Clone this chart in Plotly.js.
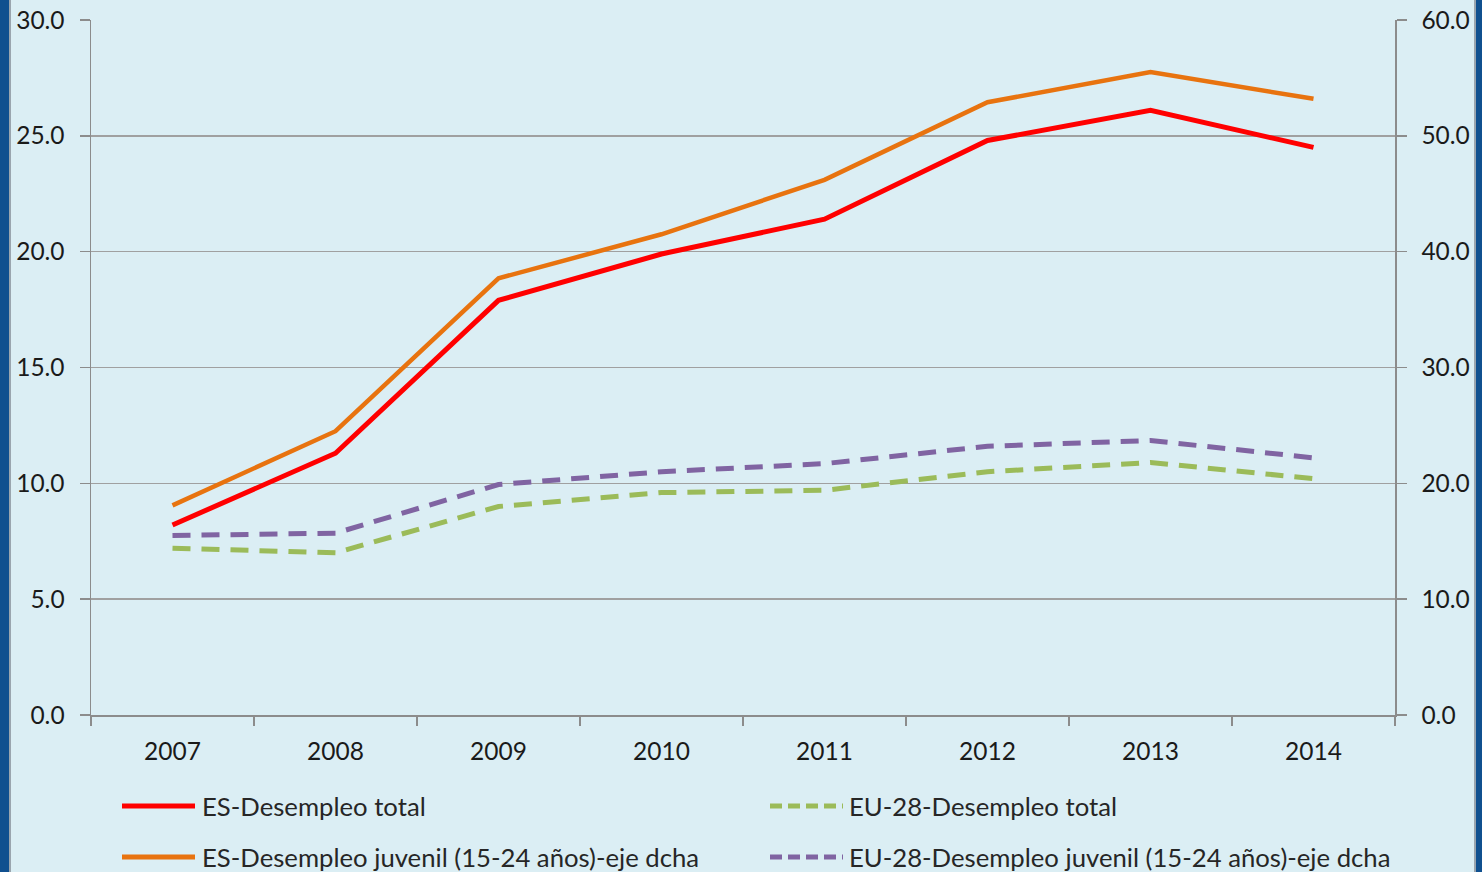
<!DOCTYPE html>
<html>
<head>
<meta charset="utf-8">
<script src="https://cdn.plot.ly/plotly-3.0.1.min.js"></script>
<style>
  html, body { margin:0; padding:0; background:#dbeef4; overflow:hidden; }
  #chart { position:absolute; left:0; top:0; width:1482px; height:872px; }
  .stripL { position:absolute; left:0; top:0; width:9px; height:872px; background:#10508f; border-right:2px solid #9aa5ae; }
  .stripR { position:absolute; right:0; top:0; width:6px; height:872px; background:#10508f; border-left:2px solid #9aa5ae; }
</style>
</head>
<body>
<div id="chart"></div>
<div class="stripL"></div>
<div class="stripR"></div>
<script>
const years = ["2007","2008","2009","2010","2011","2012","2013","2014"];
const esTotal = [8.2, 11.3, 17.9, 19.9, 21.4, 24.8, 26.1, 24.5];
const euTotal = [7.2, 7.0, 9.0, 9.6, 9.7, 10.5, 10.9, 10.2];
const esYouth = [18.1, 24.5, 37.7, 41.5, 46.2, 52.9, 55.5, 53.2];
const euYouth = [15.5, 15.7, 19.9, 21.0, 21.7, 23.2, 23.7, 22.2];
const names = ["ES-Desempleo total", "EU-28-Desempleo total",
               "ES-Desempleo juvenil (15-24 años)-eje dcha", "EU-28-Desempleo juvenil (15-24 años)-eje dcha"];

const FONT = "Lato, 'Open Sans', sans-serif";
const cRed = "#ff0000", cOrange = "#e8730f", cGreen = "#9bbb59", cPurple = "#8064a2";
const dashP = "18px,11px";

const traces = [
  {x: years, y: esTotal, name: names[0], yaxis: "y", mode: "lines", line: {color: cRed, width: 5}},
  {x: years, y: euTotal, name: names[1], yaxis: "y", mode: "lines", line: {color: cGreen, width: 5, dash: dashP}},
  {x: years, y: esYouth, name: names[2], yaxis: "y2", mode: "lines", line: {color: cOrange, width: 4.5}},
  {x: years, y: euYouth, name: names[3], yaxis: "y2", mode: "lines", line: {color: cPurple, width: 5, dash: dashP}}
];

// legend (manual) in paper coordinates
const W = 1304, H = 695, L = 91, T = 20;
const px = v => (v - L) / W;
const py = v => (T + H - v) / H;
const legendItems = [
  {i: 0, x0: 122, x1: 195, tx: 200, y: 806},
  {i: 1, x0: 770, x1: 843, tx: 847, y: 806},
  {i: 2, x0: 122, x1: 195, tx: 200, y: 857},
  {i: 3, x0: 770, x1: 843, tx: 847, y: 857}
];
const shapes = [], annotations = [];
legendItems.forEach(it => {
  const tr = traces[it.i];
  shapes.push({type: "line", xref: "paper", yref: "paper", x0: px(it.x0), x1: px(it.x1), y0: py(it.y), y1: py(it.y),
    line: {color: tr.line.color, width: 5, dash: tr.line.dash ? "12px,6px" : "solid"}});
  annotations.push({xref: "paper", yref: "paper", x: px(it.tx), y: py(it.y), xanchor: "left", yanchor: "middle",
    text: tr.name, showarrow: false, font: {family: FONT, size: 25.7, color: "#262626"}});
});

const layout = {
  width: 1482, height: 872,
  margin: {l: L, r: 1482 - L - W, t: T, b: 872 - T - H},
  paper_bgcolor: "rgba(0,0,0,0)",
  plot_bgcolor: "#dbeef4",
  showlegend: false,
  font: {family: FONT, size: 24, color: "#1a1a1a"},
  xaxis: {type: "category", tickson: "boundaries", ticks: "outside", ticklen: 9, tickwidth: 1.5, tickcolor: "#8c8c8c",
          showline: true, linecolor: "#8c8c8c", linewidth: 1.5, showgrid: false, ticklabelstandoff: 14,
          range: [-0.5, 7.5], tickfont: {family: FONT, size: 24.5, color: "#1a1a1a"}},
  yaxis: {range: [0, 30], dtick: 5, tick0: 0, tickformat: ".1f", ticks: "outside", ticklen: 10, tickwidth: 1.5,
          tickcolor: "#8c8c8c", showline: true, linecolor: "#8c8c8c", linewidth: 1.5, showgrid: true,
          gridcolor: "#a0a0a0", gridwidth: 1.5, zeroline: false, ticklabelstandoff: 10,
          tickfont: {family: FONT, size: 24.5, color: "#1a1a1a"}},
  yaxis2: {range: [0, 60], dtick: 10, tick0: 0, tickformat: ".1f", overlaying: "y", side: "right", ticks: "outside",
           ticklen: 10, tickwidth: 1.5, tickcolor: "#8c8c8c", showline: true, linecolor: "#8c8c8c", linewidth: 1.5,
           showgrid: false, zeroline: false, ticklabelstandoff: 10,
           tickfont: {family: FONT, size: 24.5, color: "#1a1a1a"}},
  shapes: shapes,
  annotations: annotations
};

Plotly.newPlot("chart", traces, layout, {displayModeBar: false, staticPlot: true});
</script>
</body>
</html>
